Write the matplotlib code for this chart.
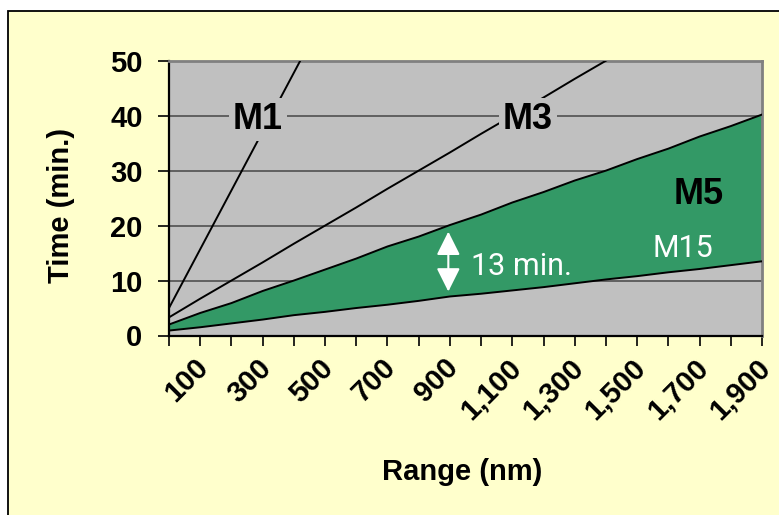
import matplotlib
matplotlib.use('Agg')
import matplotlib.pyplot as plt
import matplotlib.patches as patches
import matplotlib.transforms as mtransforms

# chart data
range_nm = [0, 100, 200, 300, 400, 500, 600, 700, 800, 900,
            1000, 1100, 1200, 1300, 1400, 1500, 1600, 1700, 1800, 1900]
m15 = [0.9, 1.5, 2.2, 2.9, 3.7, 4.3, 5.0, 5.6, 6.3, 7.1,
       7.6, 8.2, 8.8, 9.5, 10.2, 10.8, 11.5, 12.1, 12.8, 13.5]
m5 = [2.0, 4.1, 5.9, 8.1, 10.0, 12.0, 14.0, 16.2, 18.0, 20.1,
      22.0, 24.2, 26.1, 28.2, 30.0, 32.1, 34.0, 36.2, 38.1, 40.2]
m3_range = range_nm[:16]
m3 = [3.3, 6.7, 10.0, 13.3, 16.7, 20.0, 23.3, 26.7, 30.0, 33.3,
      36.7, 40.0, 43.3, 46.7, 50.0, 53.3]
m1_range = range_nm[:6]
m1 = [5.0, 15.7, 26.4, 37.1, 47.8, 58.5]

x_tick_labels = ['100', '300', '500', '700', '900',
                 '1,100', '1,300', '1,500', '1,700', '1,900']
y_ticks = [0, 10, 20, 30, 40, 50]

yellow = '#FFFFCC'
plot_gray = '#C0C0C0'
green = '#339966'
bold_font = 'Liberation Sans'
narrow_font = ['Roboto', 'DejaVu Sans']

fig = plt.figure(figsize=(7.79, 5.15), dpi=100)
fig.patch.set_facecolor('white')

# yellow chart area with its border (runs off the right/bottom edge)
fig.add_artist(patches.Rectangle((8 / 779, -0.1), 1.2, 1 - 10.5 / 515 + 0.1,
                                 transform=fig.transFigure, facecolor=yellow,
                                 edgecolor='black', linewidth=1.3, zorder=0))

ax = fig.add_axes([169 / 779, 1 - 335.5 / 515, (762 - 169) / 779, (335.5 - 60.7) / 515])
ax.set_facecolor(plot_gray)
ax.set_xlim(0, 1900)
ax.set_ylim(0, 50)

ax.set_axisbelow(True)
ax.yaxis.grid(True, color='#505050', linewidth=1.2)

ax.fill_between(range_nm, m15, m5, facecolor=green, edgecolor='none', zorder=2)
ax.plot(range_nm, m5, color='black', linewidth=1.4, zorder=3)
ax.plot(range_nm, m15, color='black', linewidth=1.4, zorder=3)
ax.plot(m3_range, m3, color='black', linewidth=1.4, zorder=3)
ax.plot(m1_range, m1, color='black', linewidth=1.4, zorder=3)

# axes styling
for side in ['left', 'bottom']:
    ax.spines[side].set_color('black')
    ax.spines[side].set_linewidth(1.6)
for side in ['top', 'right']:
    ax.spines[side].set_color('#808080')
    ax.spines[side].set_linewidth(2)

ax.set_yticks(y_ticks)
ax.set_yticklabels([str(v) for v in y_ticks], fontsize=21, fontweight='bold',
                   family=bold_font)
ax.tick_params(axis='y', direction='out', length=8, width=1.2, pad=11)

ax.set_xticks(range_nm, minor=True)
ax.set_xticks(range_nm[1::2])
ax.set_xticklabels(x_tick_labels, fontsize=21, fontweight='bold', family=bold_font,
                   rotation=45, ha='right', va='top')
ax.tick_params(axis='x', which='both', direction='out', length=7, width=1.2, pad=6)
shift = mtransforms.ScaledTranslation(14 / 100, 0, fig.dpi_scale_trans)
for lbl in ax.get_xticklabels():
    lbl.set_transform(lbl.get_transform() + shift)

fig.text(461.7 / 779, 1 - 472.5 / 515, 'Range (nm)', ha='center', va='center',
         fontsize=21, fontweight='bold', family=bold_font)
fig.text(61 / 779, 1 - 205 / 515, 'Time (min.)', ha='center', va='center',
         rotation=90, fontsize=21, fontweight='bold', family=bold_font)

# series labels
box = dict(boxstyle='square,pad=0.1', facecolor=plot_gray, edgecolor='none')
ax.text(285, 39.3, 'M1', ha='center', va='center', fontsize=26, fontweight='bold',
        family=bold_font, bbox=box, zorder=4)
ax.text(1150, 39.3, 'M3', ha='center', va='center', fontsize=26, fontweight='bold',
        family=bold_font, bbox=box, zorder=4)
ax.text(1697, 25.6, 'M5', ha='center', va='center', fontsize=26, fontweight='bold',
        family=bold_font, zorder=4)
ax.text(1648, 15.8, 'M15', ha='center', va='center', fontsize=22, color='white',
        family=narrow_font, zorder=4)

# gap marker between M5 and M15
ax.annotate('', xy=(895, 18.9), xytext=(895, 8.0),
            arrowprops=dict(arrowstyle='<|-|>,head_length=0.8,head_width=0.4',
                            color='white', lw=1.5, mutation_scale=18,
                            shrinkA=0, shrinkB=0), zorder=4)
ax.text(968, 12.6, '13 min.', ha='left', va='center', fontsize=22, color='white',
        family=narrow_font, zorder=4)

fig.savefig('out.png', dpi=100, facecolor=fig.get_facecolor())
